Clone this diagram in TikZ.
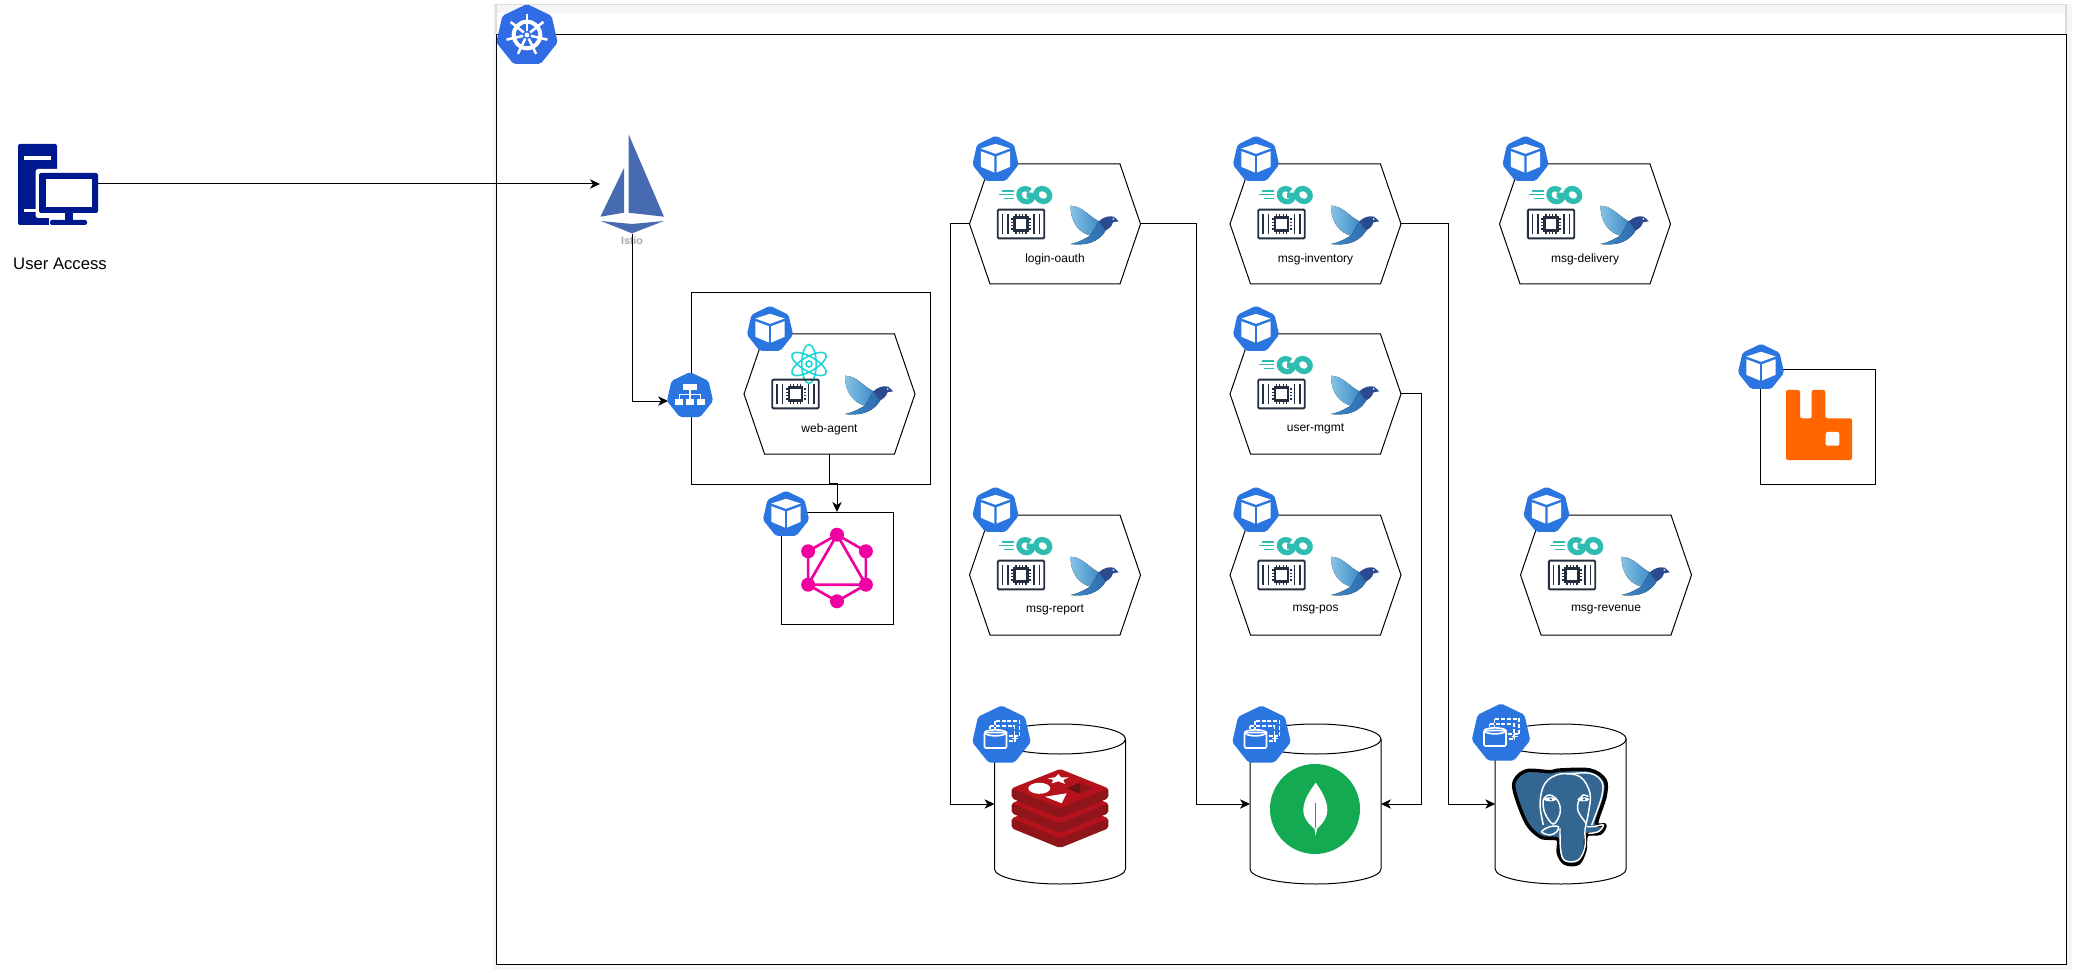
\documentclass[tikz,border=0pt]{standalone}
\usepackage{fontspec}
\setmainfont{Liberation Sans}
\usetikzlibrary{arrows.meta,shapes.geometric}
\definecolor{podblue}{HTML}{2A75E0}
\definecolor{kblue}{HTML}{326CE5}
\definecolor{navy}{HTML}{00188F}
\definecolor{istioblue}{HTML}{466BB0}
\definecolor{chipdark}{HTML}{232F3E}
\definecolor{goteal}{HTML}{2DBCAF}
\definecolor{reactc}{HTML}{1FD6D6}
\definecolor{gqlpink}{HTML}{F000A0}
\definecolor{rabbit}{HTML}{FF6600}
\definecolor{mongogreen}{HTML}{13AA52}
\definecolor{pgblue}{HTML}{336791}
\definecolor{redisA}{HTML}{B5121B}
\definecolor{redisB}{HTML}{8F151B}
\definecolor{birdA}{HTML}{86C3E6}
\definecolor{birdB}{HTML}{3F8AC6}
\definecolor{birdC}{HTML}{2D6DB1}
\definecolor{birdD}{HTML}{2B4A8F}
\newcommand\pxu{*0.75pt}
\tikzset{
  x=0.75pt,y=-0.75pt,
  line width=0.8pt,
  boxnode/.style={draw=black,fill=white,inner sep=0,outer sep=0},
  ghost/.style={inner sep=0,outer sep=0},
  hexa/.style={ghost,minimum width=171\pxu,minimum height=120\pxu},
  hexline/.style={draw=black,line width=0.75pt},
  lbl/.style={ghost,font=\fontsize{9}{11}\selectfont,text=black},
  hept/.style={regular polygon,regular polygon sides=7,inner sep=0,outer sep=0,draw=none,rounded corners=1.5pt},
  conn/.style={draw=black,line width=0.75pt,-{Stealth[length=7.5pt,width=7pt,inset=2.2pt]}},
  plain/.style={draw=black,line width=0.75pt},
}
% --- glyphs, all drawn around (#1,#2) ---
\newcommand\podglyph[2]{\begin{scope}[shift={(#1,#2)}]
  \fill[white] (-14.7,-11)--(0,-15.7)--(14.7,-11)--(0,-5.7)--cycle;
  \fill[white] (-14.7,-8.3)--(-1.2,-3.3)--(-1.2,13)--(-14.7,7.3)--cycle;
  \fill[white] (14.7,-8.3)--(1.2,-3.3)--(1.2,13)--(14.7,7.3)--cycle;
\end{scope}}
\newcommand\stsglyph[2]{\begin{scope}[shift={(#1,#2)}]
  \draw[white,line width=1.1pt,dash pattern=on 3pt off 1.3pt] (-6.5,-14.5) rectangle (18.2,0.5);
  \draw[white,line width=1.1pt,dash pattern=on 3pt off 1.3pt] (-11.5,-9.5) rectangle (13,5.5);
  \draw[white,line width=1.1pt] (10.5,3)--(16.5,3) (13.5,0)--(13.5,6);
  \fill[podblue] (-19,-7) rectangle (7,14);
  \draw[white,line width=1.2pt,rounded corners=1pt] (-17,-3) rectangle (5,12.5);
  \draw[white,line width=1.2pt] (-17,-3) .. controls (-15,-6.5) and (3,-6.5) .. (5,-3) .. controls (3,1.5) and (-15,1.5) .. (-17,-3);
\end{scope}}
\newcommand\chipglyph[2]{\begin{scope}[shift={(#1,#2)}]
  \draw[chipdark,line width=1.4pt,rounded corners=0.8pt] (-23.2,-14.4) rectangle (23.2,14.4);
  \draw[chipdark,line width=1.3pt] (-18.5,-10)--(-18.5,10) (-13,-10)--(-13,10) (18.5,-10)--(18.5,10) (13,-10)--(13,10);
  \draw[chipdark,line width=1.8pt] (-6.5,-6.5) rectangle (6.5,6.5);
  \draw[chipdark,line width=0.9pt] (-5,-10)--(-5,-8) (-1.7,-10)--(-1.7,-8) (1.7,-10)--(1.7,-8) (5,-10)--(5,-8)
     (-5,10)--(-5,8) (-1.7,10)--(-1.7,8) (1.7,10)--(1.7,8) (5,10)--(5,8)
     (-10,-5)--(-8,-5) (-10,-1.7)--(-8,-1.7) (-10,1.7)--(-8,1.7) (-10,5)--(-8,5)
     (10,-5)--(8,-5) (10,-1.7)--(8,-1.7) (10,1.7)--(8,1.7) (10,5)--(8,5);
\end{scope}}
\newcommand\birdglyph[2]{\begin{scope}[shift={(#1,#2)}]
  \fill[left color=birdA,right color=birdB] (-24,-18.3) .. controls (-12,-18) and (-5,-7) .. (4.3,-2.7) -- (3,5) -- (-4,11.7) .. controls (-14,9) and (-24,0) .. (-24,-18.3) -- cycle;
  \fill[left color=birdB,right color=birdC] (-24,20) .. controls (-14,18) and (-9,14) .. (-4,11.7) -- (4.3,-2.7) -- (11,6.7) .. controls (6,15) and (-2,19) .. (-10,20) .. controls (-14,20.5) and (-20,20.5) .. (-24,20) -- cycle;
  \fill[birdD] (4.3,-2.7) .. controls (9,-7) and (14,-8.5) .. (19.3,-7.3) -- (24.3,-2.7) -- (18.5,-1.7) .. controls (17,3) and (14,5) .. (11,6.7) -- cycle;
  \fill[white] (18.7,-5) circle[radius=0.9];
\end{scope}}
\newcommand\goglyph[2]{\begin{scope}[shift={(#1,#2)}]
  \draw[goteal,line width=0.9pt] (-23.7,-4)--(-12,-4) (-27,-0.3)--(-12,-0.3) (-22,3.3)--(-12,3.3);
  \begin{scope}[xslant=-0.12]
   \draw[goteal,line width=4pt] plot[domain=45:360,samples=40] ({0.3+6.8*cos(\x)},{0.2-6.4*sin(\x)}) -- (1.2,0.2);
   \draw[goteal,line width=4pt] (17.3,0) circle[x radius=6.8,y radius=6.4];
  \end{scope}
\end{scope}}
\newcommand\atomglyph[2]{\begin{scope}[shift={(#1,#2)}]
  \draw[reactc,line width=1.2pt,rotate=30] (0,0) circle[x radius=19.5,y radius=7.2];
  \draw[reactc,line width=1.2pt,rotate=90] (0,0) circle[x radius=19.5,y radius=7.2];
  \draw[reactc,line width=1.2pt,rotate=150] (0,0) circle[x radius=19.5,y radius=7.2];
  \draw[reactc,line width=1.2pt] (0,0) circle[radius=3];
\end{scope}}
% hexagon service: name, x, y, label, logo command
\newcommand\service[5]{\begin{scope}[shift={(#2,#3)}]
  \node[hexa] (#1) at (0,0) {};
  \draw[hexline] (#1.west)--([xshift=15.4pt]#1.north west)--([xshift=-15.4pt]#1.north east)--(#1.east)--([xshift=-15.4pt]#1.south east)--([xshift=15.4pt]#1.south west)--cycle;
  \node[lbl] (#1-label) at (0,35) {#4};
  #5
  \chipglyph{-34}{0}
  \birdglyph{39.5}{0}
  \node[hept,fill=podblue,minimum size=47.4\pxu] (#1-pod) at (-59.5,-64.5) {};
  \podglyph{-59.5}{-64.5}
\end{scope}}
\newcommand\database[3]{\begin{scope}[shift={(#2,#3)}]
  \node[ghost,minimum width=131\pxu,minimum height=160\pxu] (#1) at (0,0) {};
  \draw[plain] (-65.5,-65)--(-65.5,65) .. controls (-65.5,73.3) and (-36.2,80) .. (0,80) .. controls (36.2,80) and (65.5,73.3) .. (65.5,65)--(65.5,-65);
  \draw[plain] (0,-65) circle[x radius=65.5,y radius=15];
\end{scope}}
\newcommand\statefulbadge[3]{%
  \node[hept,fill=podblue,minimum size=60\pxu] (#1) at (#2,#3) {};
  \stsglyph{#2}{#3}}
\begin{document}
\begin{tikzpicture}
\useasboundingbox (0,0) rectangle (2074,973);
\fill[white] (0,0) rectangle (2074,973);
% outer frame with soft shadow
\fill[black!4] (493,4) rectangle (2072,970);
\fill[white] (496,4) rectangle (2066,964);
\fill[black!4] (497,5) rectangle (2065,13);
\draw[black!14,line width=1pt] (496,34.4)--(496,4.5)--(2066,4.5)--(2066,34.4);
\node[boxnode,fill=white,anchor=north west,minimum width=1570\pxu,minimum height=930\pxu] (cluster) at (496,34.4) {};
\node[hept,fill=kblue,minimum size=63\pxu] (k8s) at (527,35.5) {};
\begin{scope}[shift={(527,35)}]
  \draw[white,line width=3pt] (0,0) circle[radius=13.3];
  \foreach \a in {90,141.43,192.86,244.29,295.71,347.14,38.57}{
    \draw[white,line width=1.9pt] ({4*cos(\a)},{-4*sin(\a)})--({21*cos(\a)},{-21*sin(\a)});
  }
  \fill[white] (0,0) circle[radius=2.4];
\end{scope}
% user computer
\node[ghost,minimum width=80\pxu,minimum height=82\pxu] (pc) at (58,184) {};
\fill[navy,rounded corners=1.5pt] (18,144) rectangle (57,225);
\fill[white,rounded corners=2pt] (35.5,169) rectangle (102,218);
\fill[white] (49,218) rectangle (60,226);
\fill[navy,rounded corners=1.5pt] (39,173) rectangle (98,213);
\fill[white] (45.5,179) rectangle (92.4,207);
\fill[white] (24,156) rectangle (51,160);
\fill[white] (24,209) rectangle (36,212);
\fill[navy] (65,213) rectangle (73,220);
\fill[navy,rounded corners=1.5pt] (50,220) rectangle (87,225);
\node[ghost,font=\fontsize{12.5}{15}\selectfont] (useraccess) at (60,264) {User Access};
% istio
\node[ghost,minimum width=64\pxu,minimum height=100\pxu] (istio) at (632,184) {};
\fill[istioblue] (628.6,134.3)--(664,216.7)--(628.6,212.7)--cycle;
\fill[istioblue] (624,168)--(624,212.7)--(600.4,216.7)--cycle;
\fill[istioblue] (600.8,221)--(632,224)--(664,221)--(632,233.3)--cycle;
\node[ghost,font=\bfseries\fontsize{8}{9}\selectfont,text=black!35] (istiotext) at (632,241) {Istio};
% web-agent frame
\node[boxnode,anchor=north west,minimum width=239\pxu,minimum height=192\pxu] (webframe) at (691,292) {};
% services
\service{web}{829.5}{394}{web-agent}{\atomglyph{-20.5}{-30}}
\service{login}{1055}{224}{login-oauth}{\goglyph{-29.5}{-29}}
\service{inventory}{1315.5}{224}{msg-inventory}{\goglyph{-29.5}{-29}}
\service{delivery}{1585}{224}{msg-delivery}{\goglyph{-29.5}{-29}}
\service{usermgmt}{1315.5}{394}{user-mgmt}{\goglyph{-29.5}{-29}}
\service{report}{1055}{575}{msg-report}{\goglyph{-29.5}{-29}}
\service{pos}{1315.5}{575}{msg-pos}{\goglyph{-29.5}{-29}}
\service{revenue}{1606}{575}{msg-revenue}{\goglyph{-29.5}{-29}}
% load balancer service badge
\node[hept,fill=podblue,minimum size=47.4\pxu] (svc) at (690,395.7) {};
\begin{scope}[shift={(690,395.7)}]
  \fill[white] (-6.7,-11.7) rectangle (6.7,-5.7);
  \fill[white] (-14.7,3.7) rectangle (-6.7,9.3);
  \fill[white] (-4,3.7) rectangle (4,9.3);
  \fill[white] (6.7,3.7) rectangle (14.7,9.3);
  \draw[white,line width=0.8pt] (0,-5.7)--(0,3.7) (-10.7,3.7)--(-10.7,-1)--(10.7,-1)--(10.7,3.7);
\end{scope}
% connectors
\draw[conn] (pc.east)--(istio.west);
\draw[conn] (istio.south) |- ([yshift=-4pt]svc.west);
% graphql
\node[boxnode,minimum width=112\pxu,minimum height=112\pxu] (graph) at (837,568) {};
\node[hept,fill=podblue,minimum size=47.4\pxu] (graph-pod) at (786,514.5) {};
\podglyph{786}{514.5}
\begin{scope}[shift={(837,568)}]
  \draw[gqlpink,line width=2pt,line join=round] (0,-33.3)--(28.9,-16.7)--(28.9,16.7)--(0,33.3)--(-28.9,16.7)--(-28.9,-16.7)--cycle;
  \draw[gqlpink,line width=2pt,line join=round] (0,-33.3)--(28.9,16.7)--(-28.9,16.7)--cycle;
  \foreach \p in {(0,-33.3),(28.9,-16.7),(28.9,16.7),(0,33.3),(-28.9,16.7),(-28.9,-16.7)}
    \fill[gqlpink] \p circle[radius=7];
\end{scope}
\draw[conn] (web.south) -- ++(0,29) -| (graph.north);
% rabbitmq
\node[boxnode,minimum width=115\pxu,minimum height=115\pxu] (rabbitbox) at (1817.5,426.5) {};
\fill[rabbit,rounded corners=1.5pt] (1786,390)--(1800,390)--(1800,418.3)--(1811.7,418.3)--(1811.7,390)--(1825.3,390)--(1825.3,418.3)--(1852,418.3)--(1852,460)--(1786,460)--cycle;
\fill[white,rounded corners=1.5pt] (1825.7,432) rectangle (1839.3,445.7);
\node[hept,fill=podblue,minimum size=47.4\pxu] (rabbit-pod) at (1761,367.5) {};
\podglyph{1761}{367.5}
% databases
\database{redis}{1060}{804}
\database{mongo}{1315.5}{804}
\database{postgres}{1560.7}{804}
\statefulbadge{redis-badge}{1001.5}{735.5}
\statefulbadge{mongo-badge}{1261.5}{735.5}
\statefulbadge{postgres-badge}{1501}{733.5}
% redis logo
\begin{scope}[shift={(1060,809)}]
  \foreach \d in {30,15,0}{
    \fill[redisB,rounded corners=1.5pt] (-48.3,-20.7+\d)--(-48.3,-10.7+\d)--(0,9+\d)--(48.3,-10.7+\d)--(48.3,-20.7+\d)--cycle;
    \fill[redisA,rounded corners=1.5pt] (-48.3,-20.7+\d)--(0,-40+\d)--(48.3,-20.7+\d)--(0,-0.7+\d)--cycle;
  }
  \fill[white] (-20.7,-20.7) circle[x radius=11,y radius=5.5];
  \fill[white] (-1.7,-35)--(1,-31.7)--(9,-31.7)--(3.3,-29)--(5,-25)--(-1.7,-27.7)--(-8.3,-25.7)--(-6.7,-29)--(-12.3,-30.7)--(-5,-31.7)--cycle;
  \fill[white] (-15,-12.3)--(6.7,-15.7)--(1.7,-5.7)--cycle;
  \fill[redisB!75!black] (6.7,-20.7)--(20,-26.3)--(20,-15)--cycle;
  \fill[redisB] (20,-26.3)--(33.3,-20.7)--(20,-15)--cycle;
\end{scope}
% mongodb logo
\begin{scope}[shift={(1315,809)}]
  \fill[mongogreen] (0,0) circle[radius=45];
  \fill[white] (0.7,-26.3) .. controls (5,-20) and (12.3,-10) .. (12.3,1) .. controls (12.3,10) and (6,16) .. (2,20) -- (0.7,27) -- (-0.4,20) .. controls (-5,16) and (-11.7,10) .. (-11.7,1) .. controls (-11.7,-10) and (-3.5,-20) .. (0.7,-26.3) -- cycle;
  \draw[mongogreen,line width=0.5pt] (0.7,-6)--(0.7,19);
\end{scope}
% postgres logo
\begin{scope}[shift={(1560,816)},x=0.25pt,y=-0.25pt]
  \filldraw[fill=pgblue,draw=black,line width=2.6pt,line join=round] plot[smooth cycle,tension=0.55] coordinates {(0,-138) (90,-138) (135,-108) (135,-58) (110,22) (135,27) (120,52) (80,57) (75,102) (55,142) (15,142) (-5,112) (-5,72) (-30,67) (-60,62) (-100,22) (-135,-68) (-135,-108) (-100,-136) (-30,-133)};
  \draw[white,line width=1.1pt] plot[smooth,tension=0.6] coordinates {(-50,27) (-60,-38) (-45,-98) (0,-126) (60,-118) (90,-68) (85,-8) (75,42) (75,92) (55,132) (15,134) (2,102) (0,37)};
  \draw[white,line width=1.1pt] plot[smooth cycle,tension=0.6] coordinates {(-50,-48) (-30,-63) (-5,-43) (0,-8) (-20,24) (-45,-8)};
  \draw[white,line width=1.1pt] plot[smooth,tension=0.6] coordinates {(85,-58) (70,-63) (55,-43) (55,-13) (80,24)};
  \draw[white,line width=1.1pt] plot[smooth cycle,tension=0.6] coordinates {(-55,47) (-30,32) (-5,32) (-10,47) (-30,57)};
  \draw[white,line width=1.1pt] plot[smooth,tension=0.6] coordinates {(80,32) (100,32) (130,27) (115,47) (85,52)};
  \draw[white,line width=1.1pt] plot[smooth,tension=0.6] coordinates {(20,-126) (90,-128) (125,-103) (125,-58) (95,27)};
  \fill[white] (-30,-50) circle[x radius=18,y radius=6];
  \fill[white] (70,-50) circle[x radius=18,y radius=6];
  \fill[pgblue] (-28,-50) circle[radius=4];
  \fill[pgblue] (72,-50) circle[radius=4];
\end{scope}
% connectors to databases
\draw[conn] (login.west) -- ++(-19,0) |- (redis.west);
\draw[conn] (login.east) -- ++(55.7,0) |- (mongo.west);
\draw[conn] (inventory.east) -- ++(47.5,0) |- (postgres.west);
\draw[conn] (usermgmt.east) -- ++(20,0) |- (mongo.east);
\end{tikzpicture}
\end{document}
